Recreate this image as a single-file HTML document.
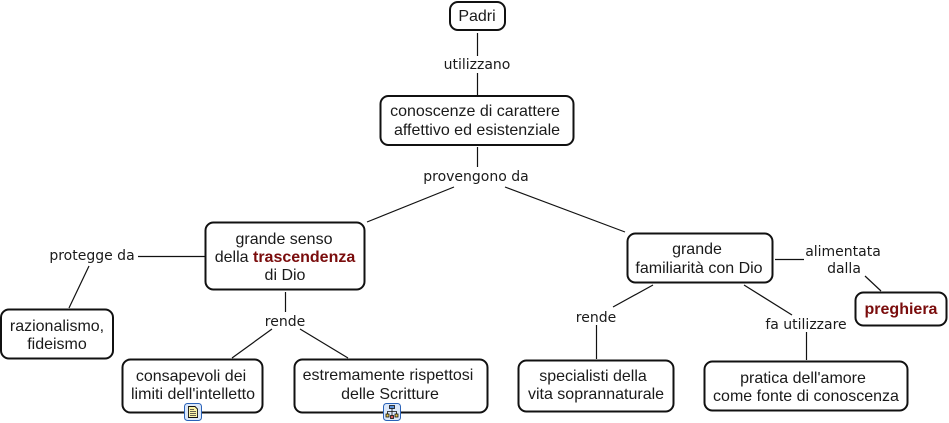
<!DOCTYPE html>
<html><head><meta charset="utf-8"><style>
html,body{margin:0;padding:0;background:#fff;width:949px;height:423px;overflow:hidden}
svg{display:block}
.n{font:16px "Liberation Sans",Arial,sans-serif;fill:#1a1a1a;text-anchor:middle}
.l{font:14px "DejaVu Sans",sans-serif;fill:#1a1a1a;text-anchor:middle}
.b{font-weight:bold;fill:#7a0c0c}
rect.box{fill:#fff;stroke:#111;stroke-width:2}
line{stroke:#111;stroke-width:1.2}
</style></head><body>
<svg width="949" height="423" viewBox="0 0 949 423" xmlns="http://www.w3.org/2000/svg">
<g>
<line x1="477.5" y1="33" x2="477.5" y2="56"/><line x1="477.5" y1="73" x2="477.5" y2="95"/>
<line x1="477.5" y1="147" x2="477.5" y2="167"/>
<line x1="454" y1="187" x2="367" y2="222"/><line x1="505" y1="187" x2="625" y2="232"/>
<line x1="138" y1="256.5" x2="205" y2="256.5"/><line x1="89" y1="266" x2="69" y2="308"/>
<line x1="285.5" y1="292" x2="285.5" y2="312"/>
<line x1="272" y1="329" x2="232" y2="358"/><line x1="300" y1="329" x2="348" y2="358"/>
<line x1="775" y1="259.5" x2="804" y2="259.5"/><line x1="865" y1="276" x2="881" y2="291"/>
<line x1="653" y1="285" x2="613" y2="307"/><line x1="596.5" y1="325" x2="596.5" y2="359"/>
<line x1="744" y1="285" x2="792" y2="315"/><line x1="806.5" y1="332" x2="806.5" y2="360"/>
</g>
<rect class="box" x="450" y="2" width="55" height="28" rx="8"/>
<rect class="box" x="380.5" y="96" width="193" height="49" rx="8"/>
<rect class="box" x="205.500" y="222.500" width="159" height="67" rx="8"/>
<rect class="box" x="1" y="309.500" width="112" height="49" rx="8"/>
<rect class="box" x="122.500" y="359.500" width="140" height="53" rx="8"/>
<rect class="box" x="294.500" y="359.500" width="193" height="53" rx="8"/>
<rect class="box" x="518.500" y="360.500" width="155" height="51" rx="8"/>
<rect class="box" x="627.500" y="233.500" width="145" height="49" rx="8"/>
<rect class="box" x="855.500" y="292.500" width="91" height="33" rx="8"/>
<rect class="box" x="704.500" y="361.500" width="203" height="49" rx="8"/>

<text class="n" x="477" y="21">Padri</text>
<text class="l" x="477" y="69">utilizzano</text>
<text class="n" x="475" y="116">conoscenze di carattere</text>
<text class="n" x="477" y="135">affettivo ed esistenziale</text>
<text class="l" x="476" y="181">provengono da</text>
<text class="n" x="284" y="244">grande senso</text>
<text class="n" x="285" y="262">della <tspan class="b">trascendenza</tspan></text>
<text class="n" x="285" y="280">di Dio</text>
<text class="l" x="92" y="260">protegge da</text>
<text class="n" x="57" y="331">razionalismo,</text>
<text class="n" x="57" y="349">fideismo</text>
<text class="l" x="285" y="326">rende</text>
<text class="n" x="191" y="381">consapevoli dei</text>
<text class="n" x="193" y="399">limiti dell'intelletto</text>
<text class="n" x="388" y="380">estremamente rispettosi</text>
<text class="n" x="390" y="399">delle Scritture</text>
<text class="l" x="596" y="322">rende</text>
<text class="n" x="593" y="381">specialisti della</text>
<text class="n" x="596" y="399">vita soprannaturale</text>
<text class="n" x="697" y="254">grande</text>
<text class="n" x="699" y="273">familiarità con Dio</text>
<text class="l" x="843" y="256">alimentata</text>
<text class="l" x="844" y="273">dalla</text>
<text class="n b" x="901" y="314">preghiera</text>
<text class="l" x="806" y="329">fa utilizzare</text>
<text class="n" x="803" y="383">pratica dell'amore</text>
<text class="n" x="806" y="401">come fonte di conoscenza</text>

<g transform="translate(184,403)">
<rect x="0.500" y="0.500" width="17" height="17" rx="3" fill="#dbe8fa" stroke="#2a62b8"/>
<path d="M4.500 3.500h6.500l2.500 2.500v8.500h-9z" fill="#fbf3a8" stroke="#111" stroke-width=".9"/>
<path d="M6 6.500h4M6 8.500h6M6 10.500h6M6 12.500h6" stroke="#333" stroke-width=".8"/>
</g>
<g transform="translate(383,403)">
<rect x="0.500" y="0.500" width="17" height="17" rx="3" fill="#dbe8fa" stroke="#2a62b8"/>
<path d="M9 5v6M4.500 11V8.500h9V11M9 11v2" stroke="#111" stroke-width=".8" fill="none"/>
<rect x="6.500" y="2.500" width="5" height="3" fill="#5a8fd8" stroke="#111" stroke-width=".8"/>
<rect x="3" y="11" width="3" height="3" fill="#e8c84a" stroke="#111" stroke-width=".8"/>
<rect x="12" y="11" width="3" height="3" fill="#e8c84a" stroke="#111" stroke-width=".8"/>
<rect x="7.500" y="12.500" width="3" height="3" fill="#d85a5a" stroke="#111" stroke-width=".8"/>
</g>
</svg>
</body></html>
